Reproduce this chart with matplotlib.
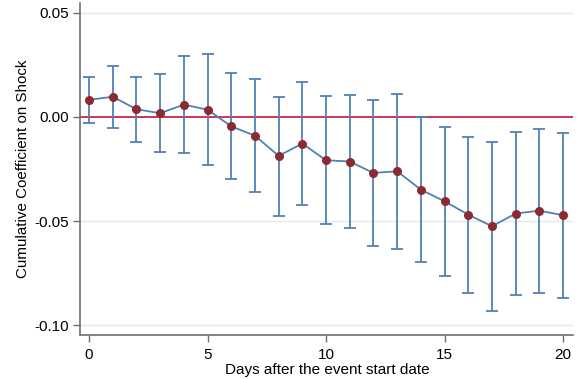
import matplotlib
matplotlib.use("Agg")
import matplotlib.pyplot as plt
import numpy as np

plt.rcParams['font.family'] = ['Liberation Sans', 'DejaVu Sans']

# cumulative coefficients and 95% bounds by day after event start
days = list(range(21))
coef = [0.0082, 0.0097, 0.0037, 0.0018, 0.0059, 0.0035, -0.0045, -0.0090,
        -0.0187, -0.0128, -0.0208, -0.0214, -0.0269, -0.0261, -0.0349,
        -0.0405, -0.0469, -0.0525, -0.0464, -0.0450, -0.0472]
ci_low = [-0.0030, -0.0051, -0.0118, -0.0170, -0.0174, -0.0229, -0.0298,
          -0.0359, -0.0474, -0.0422, -0.0515, -0.0534, -0.0618, -0.0632,
          -0.0696, -0.0763, -0.0843, -0.0933, -0.0854, -0.0843, -0.0867]
ci_high = [0.0193, 0.0246, 0.0191, 0.0208, 0.0291, 0.0301, 0.0210, 0.0182,
           0.0097, 0.0168, 0.0101, 0.0107, 0.0080, 0.0112, 0.0000, -0.0048,
           -0.0094, -0.0118, -0.0074, -0.0056, -0.0078]
yticks = [-0.10, -0.05, 0.00, 0.05]
xticks = [0, 5, 10, 15, 20]

line_col = '#4f81b5'
dot_col = '#8c2b2f'
zero_col = '#c8294a'

fig = plt.figure(figsize=(5.84, 3.79), dpi=100)
ax = fig.add_axes([80 / 584, 44 / 379, 493 / 584, 332 / 379])

coef = np.array(coef)
yerr = [coef - np.array(ci_low), np.array(ci_high) - coef]

ax.axhline(0, color=zero_col, lw=1.3, zorder=2)
ax.errorbar(days, coef, yerr=yerr, fmt='none', ecolor=line_col,
            elinewidth=1.3, capsize=4, capthick=1.3, zorder=3)
ax.plot(days, coef, color=line_col, lw=1.3, zorder=4)
ax.plot(days, coef, 'o', color=dot_col, ms=5.5, zorder=5)

ax.set_xlim(-0.38, 20.42)
ax.set_ylim(-0.1047, 0.0547)
ax.set_yticks(yticks)
ax.set_yticklabels([f'{v:.2f}' for v in yticks])
ax.set_xticks(xticks)
ax.yaxis.grid(True, color='#e8e8e8', lw=1)
ax.set_axisbelow(True)

for s in ['top', 'right']:
    ax.spines[s].set_visible(False)
for s in ['left', 'bottom']:
    ax.spines[s].set_color('#707070')
    ax.spines[s].set_linewidth(1.2)
ax.tick_params(axis='both', direction='out', length=5, width=1,
               color='#707070', labelsize=11, pad=3)
ax.tick_params(axis='x', pad=4.5)

ax.set_xlabel('Days after the event start date', fontsize=11)
ax.set_ylabel('Cumulative Coefficient on Shock', fontsize=10.9)
ax.xaxis.set_label_coords(0.502, -0.083)
ax.yaxis.set_label_coords(-0.101, 0.5)

fig.savefig('out.png', dpi=100)
